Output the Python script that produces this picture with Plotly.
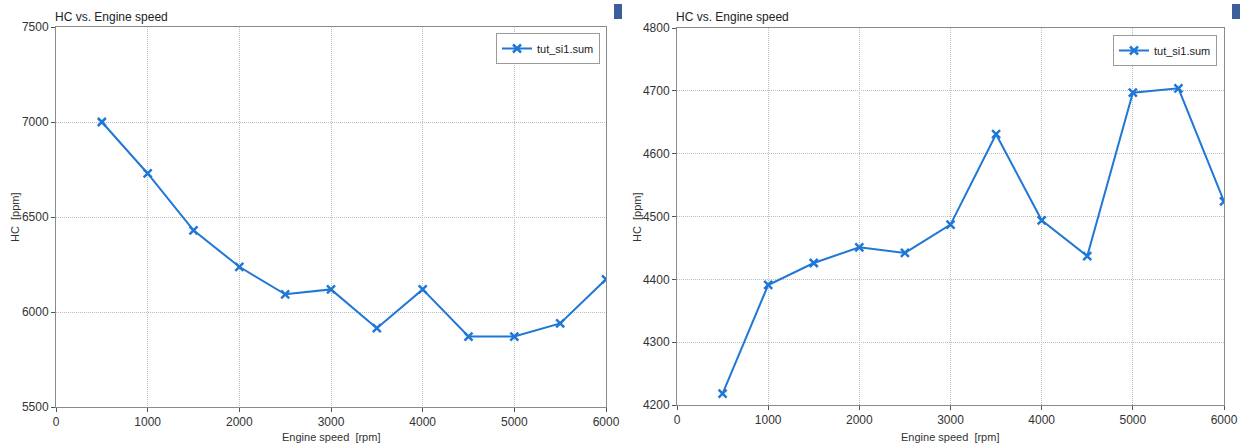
import plotly.graph_objects as go

speed = [500, 1000, 1500, 2000, 2500, 3000, 3500, 4000, 4500, 5000, 5500, 6000]
hc_left = [7000, 6729, 6430, 6238, 6093, 6119, 5915, 6119, 5871, 5871, 5940, 6172]
hc_right = [4218, 4391, 4426, 4451, 4442, 4487, 4631, 4494, 4437, 4697, 4704, 4524]
series_name = "tut_si1.sum"
title_text = "HC vs. Engine speed"
x_title = "Engine speed  [rpm]"
y_title = "HC  [ppm]"

W, H = 1240, 445
BLUE = "#1f77d6"
FONT = "Liberation Sans, Arial, sans-serif"

def px(x):
    return x / W

def py(y):
    return (H - y) / H

fig = go.Figure()
fig.add_trace(go.Scatter(x=speed, y=hc_left, name=series_name, mode="lines+markers",
                         line=dict(color=BLUE, width=2),
                         marker=dict(symbol="x-thin", size=8, line=dict(color=BLUE, width=2.5)),
                         xaxis="x", yaxis="y", legend="legend", showlegend=True))
fig.add_trace(go.Scatter(x=speed, y=hc_right, name=series_name, mode="lines+markers",
                         line=dict(color=BLUE, width=2),
                         marker=dict(symbol="x-thin", size=8, line=dict(color=BLUE, width=2.5)),
                         xaxis="x2", yaxis="y2", legend="legend2", showlegend=True))

axis_common = dict(showline=True, linecolor="#8a8a8a", linewidth=1, mirror=True,
                   showgrid=True, gridcolor="#bdbdbd", griddash="1px,1px", gridwidth=1,
                   ticks="outside", ticklen=4, tickcolor="#555", zeroline=False,
                   automargin=False,
                   tickfont=dict(family=FONT, size=12, color="#333"))

legend_common = dict(xanchor="right", yanchor="top", bordercolor="#9a9a9a", borderwidth=1,
                     bgcolor="white", itemwidth=30, tracegroupgap=0,
                     font=dict(family=FONT, size=11, color="#222"))

def label(text, x, y, angle=0, size=11):
    return dict(text=text, xref="paper", yref="paper", x=px(x), y=py(y),
                xanchor="center", yanchor="middle", showarrow=False, textangle=angle,
                font=dict(family=FONT, size=size, color="#333"))

def title(text, x, y):
    return dict(text=text, xref="paper", yref="paper", x=px(x), y=py(y),
                xanchor="left", yanchor="middle", showarrow=False,
                font=dict(family=FONT, size=12, color="#222"))

fig.update_layout(
    width=W, height=H, margin=dict(l=0, r=0, t=0, b=0, autoexpand=False),
    paper_bgcolor="white", plot_bgcolor="white", showlegend=True,
    font=dict(family=FONT, size=11, color="#333"),
    xaxis=dict(domain=[px(56), px(606)], range=[0, 6000], dtick=1000, anchor="y", **axis_common),
    yaxis=dict(domain=[py(407), py(27)], range=[5500, 7500], dtick=500, anchor="x", **axis_common),
    xaxis2=dict(domain=[px(677), px(1224)], range=[0, 6000], dtick=1000, anchor="y2", **axis_common),
    yaxis2=dict(domain=[py(405), py(28)], range=[4200, 4800], dtick=100, anchor="x2", **axis_common),
    legend=dict(x=px(600), y=py(33), **legend_common),
    legend2=dict(x=px(1217), y=py(35), **legend_common),
    annotations=[
        title(title_text, 53, 17),
        title(title_text, 674, 17),
        label(x_title, 331, 437),
        label(x_title, 950, 437),
        label(y_title, 15, 217, angle=-90),
        label(y_title, 637, 217, angle=-90),
    ],
    shapes=[
        dict(type="rect", xref="paper", yref="paper", x0=px(614), x1=px(622), y0=py(19), y1=py(4),
             fillcolor="#3d5f99", line=dict(width=0)),
        dict(type="rect", xref="paper", yref="paper", x0=px(1232), x1=px(1242), y0=py(19), y1=py(4),
             fillcolor="#3d5f99", line=dict(width=0)),
    ],
)

fig.write_html("out.html", config={"displayModeBar": False},
               post_script="document.body.style.margin='0';document.body.style.overflow='hidden';")
